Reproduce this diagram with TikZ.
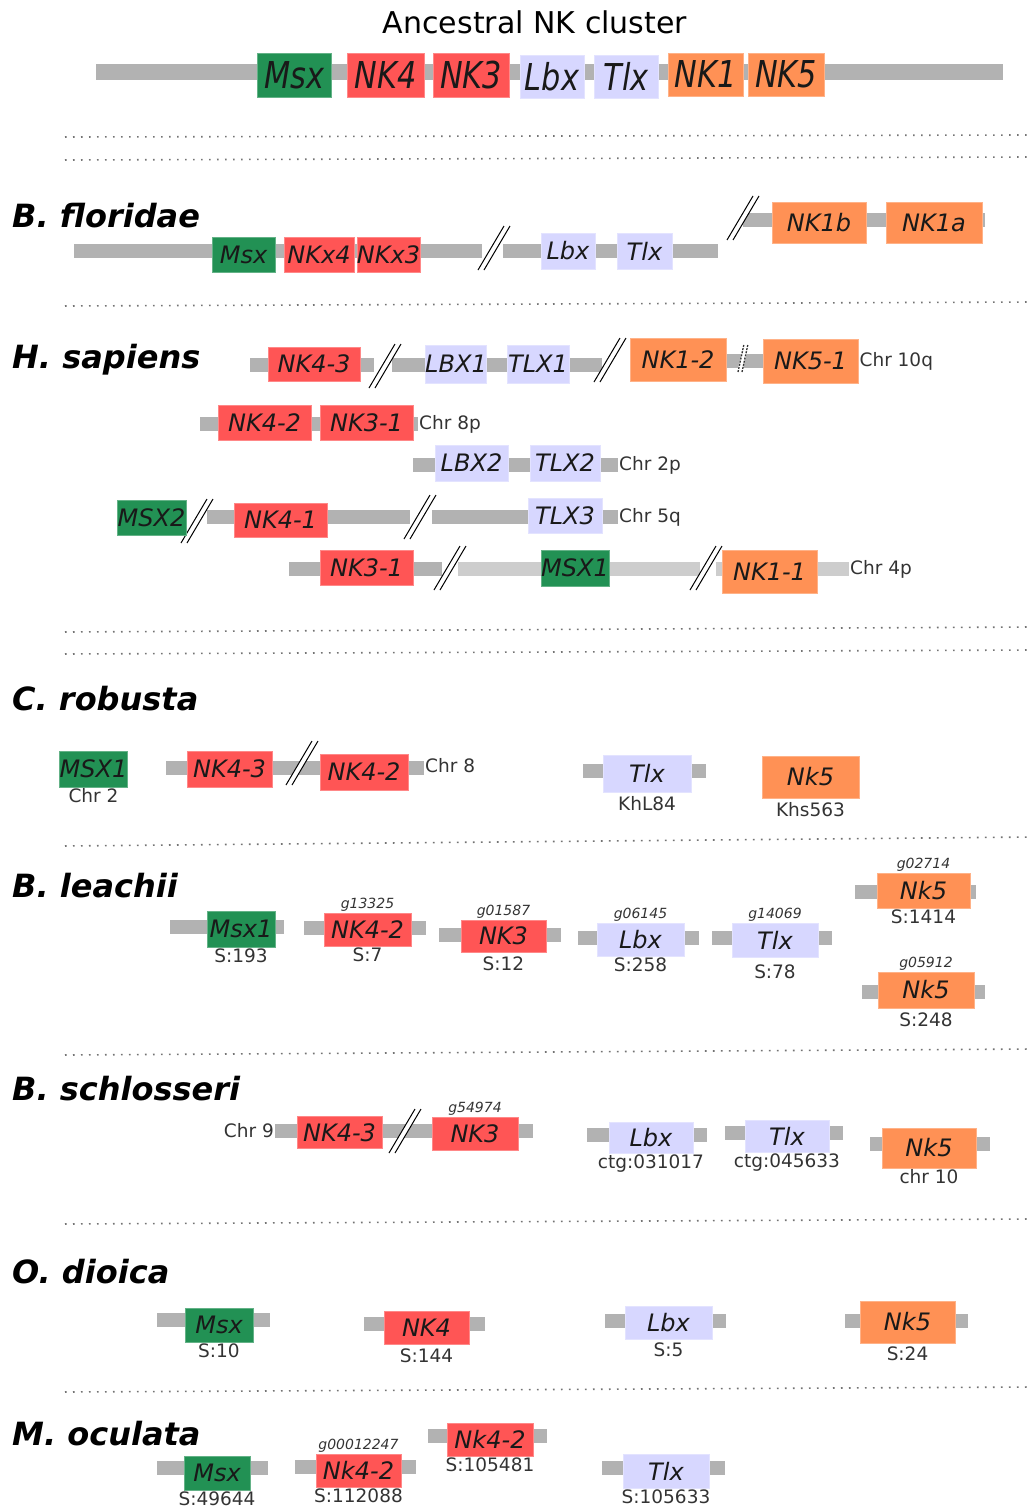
\documentclass[tikz,border=0pt]{standalone}
\usepackage{fontspec}
\setmainfont{DejaVu Sans}
\newfontfamily\tallfont[FakeStretch=0.82]{DejaVu Sans}

\definecolor{msxgreen}{RGB}{34,145,84}
\definecolor{nkred}{RGB}{255,85,85}
\definecolor{lbxblue}{RGB}{215,215,255}
\definecolor{nkorange}{RGB}{255,145,85}
\definecolor{chromgray}{RGB}{178,178,178}
\definecolor{chromlight}{RGB}{205,205,205}

\tikzset{
  gene/.style={inner sep=0pt, text=black!90, font=\itshape\fontsize{24}{24}\selectfont},
  msx/.style={gene, fill=msxgreen, draw=msxgreen!70!white, line width=0.8pt},
  nkr/.style={gene, fill=nkred, draw=nkred!70!white, line width=0.8pt},
  lbx/.style={gene, fill=lbxblue, draw=lbxblue!70!white, line width=0.8pt},
  nko/.style={gene, fill=nkorange, draw=nkorange!70!white, line width=0.8pt},
  wh/.style 2 args={minimum width=#1pt, minimum height=#2pt},
  anc/.style={font=\tallfont\itshape\fontsize{37}{37}\selectfont},
  chrom/.style={draw=chromgray, line width=14pt},
  chromlt/.style={draw=chromlight, line width=14pt},
  species/.style={anchor=base west, inner sep=0pt, font=\bfseries\itshape\fontsize{32}{32}\selectfont},
  sub/.style={inner sep=1pt, text=black!80, font=\fontsize{18.5}{18.5}\selectfont},
  gid/.style={inner sep=1pt, text=black!80, font=\itshape\fontsize{14}{14}\selectfont},
  sep/.style={draw=black!55, line width=1.6pt, dash pattern=on 1.6pt off 6.4pt},
  brk/.pic={
    \fill[white] (-16,22) -- (10,-22) -- (16,-22) -- (-10,22) -- cycle;
    \draw[line width=1pt] (-16,22) -- (10,-22) (-10,22) -- (16,-22);
  },
  dbrk/.pic={
    \fill[white] (-6,14) -- (1,-14) -- (6,-14) -- (-1,14) -- cycle;
    \draw[black!80, line width=1.3pt, dash pattern=on 2pt off 1.2pt] (-5,14) -- (1,-14) (-1,14) -- (5,-14);
  }
}

\begin{document}
\begin{tikzpicture}[x=1pt, y=-1pt]
\useasboundingbox (0,0) rectangle (1032,1510);

% ancestral cluster
\node[font=\fontsize{30}{30}\selectfont] (title) at (535,22) {Ancestral NK cluster};
\coordinate (anc-l) at (96,72); \coordinate (anc-r) at (1003,72);
\draw[chrom, line width=16pt] (anc-l) -- (anc-r);
\node[msx, anc, wh={74}{44}] (anc-msx) at (294,75) {Msx};
\node[nkr, anc, wh={77}{44}] (anc-nk4) at (385.5,75) {NK4};
\node[nkr, anc, wh={76}{44}] (anc-nk3) at (471,75) {NK3};
\node[lbx, anc, wh={64}{43}] (anc-lbx) at (552,76.5) {Lbx};
\node[lbx, anc, wh={64}{43}] (anc-tlx) at (626,76.5) {Tlx};
\node[nko, anc, wh={75}{43}] (anc-nk1) at (705.5,74.5) {NK1};
\node[nko, anc, wh={76}{43}] (anc-nk5) at (786,74.5) {NK5};

\draw[sep] (65,137) -- (1032,135);
\draw[sep] (65,160) -- (1032,157);

% B. floridae
\node[species] (bf) at (12,227) {B. floridae};
\coordinate (bf1-l) at (74,251); \coordinate (bf1-r) at (482,251);
\draw[chrom] (bf1-l) -- (bf1-r);
\coordinate (bf2-l) at (503,251); \coordinate (bf2-r) at (718,251);
\draw[chrom] (bf2-l) -- (bf2-r);
\coordinate (bf3-l) at (743,220); \coordinate (bf3-r) at (985,220);
\draw[chrom] (bf3-l) -- (bf3-r);
\pic at (494,248) {brk};
\pic at (743,218) {brk};
\node[msx, wh={63}{35}] (bf-msx) at (243.5,254.5) {Msx};
\node[nkr, wh={70}{35}] (bf-nkx4) at (319,254.5) {NKx4};
\node[nkr, wh={63}{35}] (bf-nkx3) at (388.5,254.5) {NKx3};
\node[lbx, wh={54}{36}] (bf-lbx) at (568,251) {Lbx};
\node[lbx, wh={55}{36}] (bf-tlx) at (644.5,251) {Tlx};
\node[nko, wh={94}{41}] (bf-nk1b) at (819,222.5) {NK1b};
\node[nko, wh={96}{41}] (bf-nk1a) at (934,222.5) {NK1a};

\draw[sep] (65,306) -- (1032,302);

% H. sapiens
\node[species] (hs) at (12,368) {H. sapiens};
\coordinate (hs1a-l) at (250,365); \coordinate (hs1a-r) at (374,365);
\draw[chrom] (hs1a-l) -- (hs1a-r);
\coordinate (hs1b-l) at (392,365); \coordinate (hs1b-r) at (602,365);
\draw[chrom] (hs1b-l) -- (hs1b-r);
\coordinate (hs1c-l) at (720,361); \coordinate (hs1c-r) at (775,361);
\draw[chrom] (hs1c-l) -- (hs1c-r);
\pic at (385,366) {brk};
\pic at (610,360) {brk};
\pic at (743,358) {dbrk};
\node[nkr, wh={92}{34}] (hs-nk43) at (314,364) {NK4-3};
\node[lbx, wh={60}{38}] (hs-lbx1) at (456,364) {LBX1};
\node[lbx, wh={62}{38}] (hs-tlx1) at (538,364) {TLX1};
\node[nko, wh={96}{43}] (hs-nk12) at (678,359.5) {NK1-2};
\node[nko, wh={95}{44}, label={[sub]right:{Chr 10q}}] (hs-nk51) at (810.5,361) {NK5-1};

\coordinate (hs2-l) at (200,424); \coordinate[label={[sub]right:{Chr 8p}}] (hs2-r) at (418,424);
\draw[chrom] (hs2-l) -- (hs2-r);
\node[nkr, wh={93}{35}] (hs-nk42) at (264.5,422.5) {NK4-2};
\node[nkr, wh={93}{35}] (hs-nk31) at (366.5,422.5) {NK3-1};

\coordinate (hs3-l) at (413,465); \coordinate[label={[sub]right:{Chr 2p}}] (hs3-r) at (618,465);
\draw[chrom] (hs3-l) -- (hs3-r);
\node[lbx, wh={73}{36}] (hs-lbx2) at (471.5,463) {LBX2};
\node[lbx, wh={70}{36}] (hs-tlx2) at (565,463) {TLX2};

\coordinate (hs4a-l) at (207,517); \coordinate (hs4a-r) at (410,517);
\draw[chrom] (hs4a-l) -- (hs4a-r);
\coordinate (hs4b-l) at (432,517); \coordinate[label={[sub]right:{Chr 5q}}] (hs4b-r) at (618,517);
\draw[chrom] (hs4b-l) -- (hs4b-r);
\pic at (197,521) {brk};
\pic at (420,517) {brk};
\node[msx, wh={69}{35}] (hs-msx2) at (151.5,517.5) {MSX2};
\node[nkr, wh={93}{34}] (hs-nk41) at (280.5,520) {NK4-1};
\node[lbx, wh={74}{35}] (hs-tlx3) at (565,515.5) {TLX3};

\coordinate (hs5a-l) at (289,569); \coordinate (hs5a-r) at (442,569);
\draw[chrom] (hs5a-l) -- (hs5a-r);
\coordinate (hs5b-l) at (458,569); \coordinate (hs5b-r) at (700,569);
\draw[chromlt] (hs5b-l) -- (hs5b-r);
\coordinate (hs5c-l) at (716,569); \coordinate[label={[sub]right:{Chr 4p}}] (hs5c-r) at (849,569);
\draw[chromlt] (hs5c-l) -- (hs5c-r);
\pic at (450,568) {brk};
\pic at (706,568) {brk};
\node[nkr, wh={93}{35}] (hs-nk31b) at (366.5,567.5) {NK3-1};
\node[msx, wh={68}{36}] (hs-msx1) at (575,568) {MSX1};
\node[nko, wh={95}{43}] (hs-nk11) at (769.5,571.5) {NK1-1};

\draw[sep] (65,632) -- (1032,627);
\draw[sep] (65,654) -- (1032,650);

% C. robusta
\node[species] (cr) at (12,710) {C. robusta};
\coordinate (cr1-l) at (166,768); \coordinate[label={[sub]right:{Chr 8}}] (cr1-r) at (424,766);
\draw[chrom] (cr1-l) -- (cr1-r |- cr1-l);
\coordinate (cr2-l) at (583,771); \coordinate (cr2-r) at (706,771);
\draw[chrom] (cr2-l) -- (cr2-r);
\pic at (302,763) {brk};
\node[msx, wh={67}{36}, label={[sub]below:{Chr 2}}] (cr-msx1) at (93.5,769) {MSX1};
\node[nkr, wh={85}{36}] (cr-nk43) at (229.5,769) {NK4-3};
\node[nkr, wh={88}{36}] (cr-nk42) at (364,772) {NK4-2};
\node[lbx, wh={88}{37}, label={[sub, yshift=-3pt]below:{KhL84}}] (cr-tlx) at (647,773.5) {Tlx};
\node[nko, wh={97}{42}, label={[sub, yshift=-3pt]below:{Khs563}}] (cr-nk5) at (810.5,777) {Nk5};

\draw[sep] (65,846) -- (1032,837);

% B. leachii
\node[species] (bl) at (12,897) {B. leachii};
\coordinate (bl1-l) at (170,927); \coordinate (bl1-r) at (284,927);
\draw[chrom] (bl1-l) -- (bl1-r);
\coordinate (bl2-l) at (304,928); \coordinate (bl2-r) at (426,928);
\draw[chrom] (bl2-l) -- (bl2-r);
\coordinate (bl3-l) at (439,935); \coordinate (bl3-r) at (561,935);
\draw[chrom] (bl3-l) -- (bl3-r);
\coordinate (bl4-l) at (578,938); \coordinate (bl4-r) at (699,938);
\draw[chrom] (bl4-l) -- (bl4-r);
\coordinate (bl5-l) at (712,938); \coordinate (bl5-r) at (832,938);
\draw[chrom] (bl5-l) -- (bl5-r);
\coordinate (bl6-l) at (855,892); \coordinate (bl6-r) at (976,892);
\draw[chrom] (bl6-l) -- (bl6-r);
\coordinate (bl7-l) at (862,992); \coordinate (bl7-r) at (985,992);
\draw[chrom] (bl7-l) -- (bl7-r);
\node[msx, wh={68}{36}, label={[sub]below:{S:193}}] (bl-msx1) at (241,929) {Msx1};
\node[nkr, wh={87}{33}, label={[gid]above:g13325}, label={[sub]below:{S:7}}] (bl-nk42) at (367.5,929.5) {NK4-2};
\node[nkr, wh={85}{32}, label={[gid]above:g01587}, label={[sub, yshift=-3pt]below:{S:12}}] (bl-nk3) at (503.5,936) {NK3};
\node[lbx, wh={87}{33}, label={[gid]above:g06145}, label={[sub]below:{S:258}}] (bl-lbx) at (640.5,939.5) {Lbx};
\node[lbx, wh={86}{34}, label={[gid]above:g14069}, label={[sub, yshift=-6pt]below:{S:78}}] (bl-tlx) at (775,940) {Tlx};
\node[nko, wh={93}{35}, label={[gid]above:g02714}, label={[sub]below:{S:1414}}] (bl-nk5a) at (923.5,890.5) {Nk5};
\node[nko, wh={96}{36}, label={[gid]above:g05912}, label={[sub, yshift=-3pt]below:{S:248}}] (bl-nk5b) at (926,990) {Nk5};

\draw[sep] (65,1055) -- (1032,1049);

% B. schlosseri
\node[species] (bs) at (12,1100) {B. schlosseri};
\coordinate[label={[sub]left:{Chr 9}}] (bs1-l) at (275,1131); \coordinate (bs1-r) at (533,1131);
\draw[chrom] (bs1-l) -- (bs1-r);
\coordinate (bs2-l) at (587,1135); \coordinate (bs2-r) at (707,1135);
\draw[chrom] (bs2-l) -- (bs2-r);
\coordinate (bs3-l) at (725,1133); \coordinate (bs3-r) at (843,1133);
\draw[chrom] (bs3-l) -- (bs3-r);
\coordinate (bs4-l) at (870,1144); \coordinate (bs4-r) at (990,1144);
\draw[chrom] (bs4-l) -- (bs4-r);
\pic at (405,1131) {brk};
\node[nkr, wh={85}{32}] (bs-nk43) at (339.5,1132.5) {NK4-3};
\node[nkr, wh={86}{33}, label={[gid]above:g54974}] (bs-nk3) at (475,1133.5) {NK3};
\node[lbx, wh={84}{31}, label={[sub]below:{ctg:031017}}] (bs-lbx) at (651,1137.5) {Lbx};
\node[lbx, wh={84}{32}, label={[sub]below:{ctg:045633}}] (bs-tlx) at (787,1136) {Tlx};
\node[nko, wh={94}{40}, label={[sub]below:{chr 10}}] (bs-nk5) at (929,1148) {Nk5};

\draw[sep] (65,1224) -- (1032,1219);

% O. dioica
\node[species] (od) at (12,1283) {O. dioica};
\coordinate (od1-l) at (157,1320); \coordinate (od1-r) at (270,1320);
\draw[chrom] (od1-l) -- (od1-r);
\coordinate (od2-l) at (364,1324); \coordinate (od2-r) at (485,1324);
\draw[chrom] (od2-l) -- (od2-r);
\coordinate (od3-l) at (605,1321); \coordinate (od3-r) at (726,1321);
\draw[chrom] (od3-l) -- (od3-r);
\coordinate (od4-l) at (845,1321); \coordinate (od4-r) at (968,1321);
\draw[chrom] (od4-l) -- (od4-r);
\node[msx, wh={68}{34}, label={[sub]below:{S:10}}] (od-msx) at (219,1325) {Msx};
\node[nkr, wh={85}{33}, label={[sub, yshift=-3pt]below:{S:144}}] (od-nk4) at (426.5,1327.5) {NK4};
\node[lbx, wh={87}{33}, label={[sub, yshift=-2pt]below:{S:5}}] (od-lbx) at (668.5,1322.5) {Lbx};
\node[nko, wh={95}{42}, label={[sub, yshift=-2pt]below:{S:24}}] (od-nk5) at (907.5,1322) {Nk5};

\draw[sep] (65,1392) -- (1032,1387);

% M. oculata
\node[species] (mo) at (12,1445) {M. oculata};
\coordinate (mo1-l) at (157,1468); \coordinate (mo1-r) at (268,1468);
\draw[chrom] (mo1-l) -- (mo1-r);
\coordinate (mo2-l) at (295,1467); \coordinate (mo2-r) at (416,1467);
\draw[chrom] (mo2-l) -- (mo2-r);
\coordinate (mo3-l) at (428,1436); \coordinate (mo3-r) at (547,1436);
\draw[chrom] (mo3-l) -- (mo3-r);
\coordinate (mo4-l) at (602,1468); \coordinate (mo4-r) at (725,1468);
\draw[chrom] (mo4-l) -- (mo4-r);
\node[msx, wh={66}{34}, label={[sub]below:{S:49644}}] (mo-msx) at (217,1473) {Msx};
\node[nkr, wh={85}{33}, label={[gid]above:g00012247}, label={[sub]below:{S:112088}}] (mo-nk42) at (358.5,1470.5) {Nk4-2};
\node[nkr, wh={86}{33}, label={[sub]below:{S:105481}}] (mo-nk42b) at (490,1439.5) {Nk4-2};
\node[lbx, wh={86}{34}, label={[sub]below:{S:105633}}] (mo-tlx) at (666,1471) {Tlx};
\end{tikzpicture}
\end{document}
